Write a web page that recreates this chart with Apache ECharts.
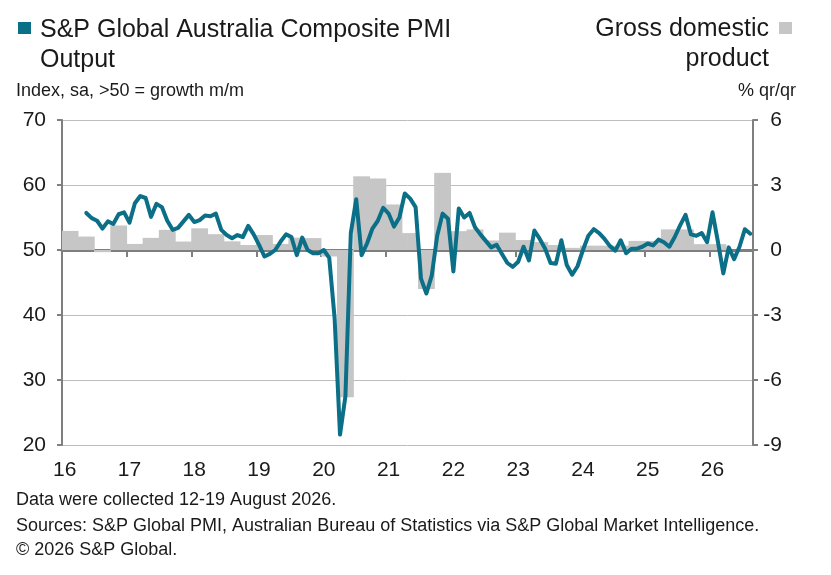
<!DOCTYPE html>
<html>
<head>
<meta charset="utf-8">
<script src="https://cdn.jsdelivr.net/npm/echarts@6/dist/echarts.min.js"></script>
<style>
html,body{margin:0;padding:0;background:#fff;}
#chart{width:831px;height:575px;}
</style>
</head>
<body>
<div id="chart"></div>
<script>
// Year tick labels (x axis), each year has 12 monthly categories; series ends Aug 2026
const yearLabels = ['16','17','18','19','20','21','22','23','24','25','26'];
const monthsInLastYear = 8;

// S&P Global Australia Composite PMI Output, monthly from Jan 2016 (null before May 2016)
const pmi = [
  null, null, null, null, 55.7, 54.9, 54.5, 53.3, 54.4, 54.0, 55.5, 55.8,
  54.2, 57.2, 58.3, 58.0, 55.1, 57.1, 56.6, 54.5, 53.1, 53.4, 54.4, 55.4,
  54.3, 54.6, 55.3, 55.2, 55.6, 53.1, 52.3, 51.8, 52.3, 52.0, 53.7, 52.4,
  50.8, 49.0, 49.4, 50.0, 51.3, 52.4, 52.0, 49.2, 51.9, 50.0, 49.5, 49.5,
  50.0, 48.8, 39.5, 21.6, 27.5, 52.6, 57.8, 49.2, 51.0, 53.3, 54.5, 56.5,
  55.6, 53.6, 55.0, 58.7, 57.9, 56.6, 45.6, 43.3, 46.1, 52.2, 55.6, 54.8,
  46.7, 56.4, 55.0, 55.7, 53.5, 52.4, 51.4, 50.4, 50.8, 49.4, 48.0, 47.4,
  48.2, 50.5, 48.4, 53.0, 51.7, 50.2, 48.0, 47.9, 51.5, 47.7, 46.2, 47.5,
  50.0, 52.2, 53.2, 52.6, 51.7, 50.6, 49.9, 51.5, 49.5, 50.2, 50.2, 50.5,
  51.0, 50.7, 51.6, 51.2, 50.5, 52.0, 53.8, 55.4, 52.4, 52.2, 52.6, 51.2,
  55.8, 51.3, 46.4, 50.4, 48.6, 50.5, 53.2, 52.5
];

// Gross domestic product, % q/q, quarterly from Q1 2016 to Q1 2026
const gdp = [
  0.88, 0.62, -0.1, 1.13,
  0.28, 0.56, 0.93, 0.39,
  1.0, 0.73, 0.4, 0.23,
  0.69, 0.28, 0.57, 0.55,
  -0.3, -6.8, 3.4, 3.3,
  2.1, 0.78, -1.8, 3.56,
  0.87, 0.95, 0.44, 0.8,
  0.46, 0.37, 0.23, 0.1,
  0.2, 0.2, 0.2, 0.42,
  0.42, 0.95, 0.95, 0.27,
  0.27
];

const leftTicks = {min: 20, max: 70, interval: 10};
const rightTicks = {min: -9, max: 6, interval: 3};

// build monthly categories
const months = [];
yearLabels.forEach((y, yi) => {
  const n = (yi === yearLabels.length - 1) ? monthsInLastYear : 12;
  for (let m = 1; m <= n; m++) months.push(y + '-' + (m < 10 ? '0' + m : m));
});
// quarterly GDP shown as a block over its three months
const gdpMonthly = months.map((_, i) => {
  const q = Math.floor(i / 3);
  return q < gdp.length ? gdp[q] : null;
});

const FONT = 'Liberation Sans, Arial, sans-serif';
const TXT = '#1a1a1a';
const AX = '#7f7f7f';
const TEAL = '#0a6f87';
const GREY = '#c6c6c6';
const isYearStart = (i) => i % 12 === 0;

const chart = echarts.init(document.getElementById('chart'), null, {renderer: 'canvas'});
chart.setOption({
  animation: false,
  textStyle: {fontFamily: FONT},
  title: [
    {text: 'S&P Global Australia Composite PMI\nOutput', left: 35, top: 10,
     textStyle: {fontFamily: FONT, fontSize: 25, fontWeight: 'normal', color: TXT, lineHeight: 30}},
    {text: 'Index, sa, >50 = growth m/m', left: 11, top: 77,
     textStyle: {fontFamily: FONT, fontSize: 18, fontWeight: 'normal', color: TXT}},
    {text: 'Data were collected 12-19 August 2026.', left: 11, top: 486,
     textStyle: {fontFamily: FONT, fontSize: 18, fontWeight: 'normal', color: TXT}},
    {text: 'Sources: S&P Global PMI, Australian Bureau of Statistics via S&P Global Market Intelligence.\n\u00a9 2026 S&P Global.',
     left: 11, top: 509,
     textStyle: {fontFamily: FONT, fontSize: 18, fontWeight: 'normal', color: TXT, lineHeight: 24}}
  ],
  graphic: [
    {type: 'text', x: 769, y: 14, z: 10,
     style: {text: 'Gross domestic\nproduct', align: 'right', verticalAlign: 'top',
             font: '25px ' + FONT, fill: TXT, lineHeight: 30}},
    {type: 'text', x: 796, y: 82, z: 10,
     style: {text: '% qr/qr', align: 'right', verticalAlign: 'top',
             font: '18px ' + FONT, fill: TXT}}
  ],
  legend: [
    {data: ['S&P Global Australia Composite PMI Output'], left: 13, top: 17, icon: 'rect',
     itemWidth: 13, itemHeight: 12, formatter: () => '', selectedMode: false, padding: 5},
    {data: ['Gross domestic product'], left: 774, top: 17, icon: 'rect',
     itemWidth: 13, itemHeight: 12, formatter: () => '', selectedMode: false, padding: 5}
  ],
  grid: {left: 62, right: 78, top: 120, bottom: 130, containLabel: false},
  xAxis: [
    {
      type: 'category', data: months, boundaryGap: true, position: 'bottom',
      axisLine: {show: true, onZero: true, onZeroAxisIndex: 1, lineStyle: {color: AX, width: 3}},
      axisTick: {show: true, interval: isYearStart, length: 7, lineStyle: {color: AX, width: 2}},
      axisLabel: {show: false},
      splitLine: {show: false}
    },
    {
      type: 'category', data: months, boundaryGap: true, position: 'bottom',
      axisLine: {show: false, onZero: false},
      axisTick: {show: false},
      axisLabel: {show: true, interval: isYearStart, formatter: (v) => v.slice(0, 2),
                  fontFamily: FONT, fontSize: 21, color: TXT, margin: 15},
      splitLine: {show: false}
    }
  ],
  yAxis: [
    {
      type: 'value', position: 'left', min: leftTicks.min, max: leftTicks.max, interval: leftTicks.interval,
      axisLine: {show: true, lineStyle: {color: AX, width: 2}},
      axisTick: {show: true, length: 5, lineStyle: {color: AX, width: 2}},
      axisLabel: {fontFamily: FONT, fontSize: 21, color: TXT, margin: 16},
      splitLine: {show: true, lineStyle: {color: '#bdbdbd', width: 1}}
    },
    {
      type: 'value', position: 'right', min: rightTicks.min, max: rightTicks.max, interval: rightTicks.interval,
      axisLine: {show: true, lineStyle: {color: AX, width: 2}},
      axisTick: {show: true, length: 5, lineStyle: {color: AX, width: 2}},
      axisLabel: {fontFamily: FONT, fontSize: 21, color: TXT, margin: 29, align: 'right'},
      splitLine: {show: false}
    }
  ],
  series: [
    {
      name: 'Gross domestic product', type: 'bar', xAxisIndex: 0, yAxisIndex: 1,
      data: gdpMonthly, barWidth: '112%', barGap: '-100%',
      itemStyle: {color: GREY}, z: 1
    },
    {
      name: 'S&P Global Australia Composite PMI Output', type: 'line', xAxisIndex: 0, yAxisIndex: 0,
      data: pmi, showSymbol: false, symbol: 'none', connectNulls: false,
      lineStyle: {color: TEAL, width: 4, join: 'round', cap: 'round'},
      itemStyle: {color: TEAL}, z: 3
    }
  ]
});
</script>
</body>
</html>
